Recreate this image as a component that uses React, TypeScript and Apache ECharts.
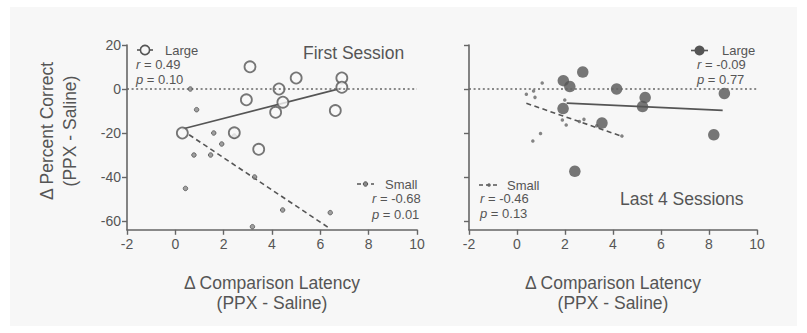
import { useEffect, useRef } from "react";
import * as echarts from "echarts";

// ---- data ----
const xTickInterval = 2;
const yTickValues = [-60, -40, -20, 0, 20];

const firstLargeX = [0.29, 3.09, 2.94, 2.44, 3.45, 4.29, 4.15, 4.45, 5.0, 6.89, 6.89, 6.62];
const firstLargeY = [-20, 10.1, -4.9, -19.9, -27.4, 0, -10.6, -6, 5, 5, 0.8, -9.8];
const firstSmallX = [0.62, 0.88, 0.77, 0.42, 1.59, 1.46, 1.92, 2.44, 3.28, 4.44, 3.19, 6.41];
const firstSmallY = [0, -9.4, -30, -45.2, -20, -30, -25, -21.4, -40, -55, -62.6, -56.2];

const lastLargeX = [1.93, 2.2, 2.74, 4.15, 1.92, 5.34, 5.23, 3.54, 2.41, 8.2, 8.64];
const lastLargeY = [3.8, 1.1, 7.7, 0, -8.9, -3.9, -8.0, -15.5, -37.4, -20.8, -2];
const lastSmallX = [0.39, 0.69, 0.75, 1.05, 1.99, 1.89, 2.05, 2.6, 2.79, 3.32, 4.37, 0.98, 0.66];
const lastSmallY = [-2.4, -0.9, -3.8, 2.7, -5, -14.1, -16.4, -14.8, -13.8, -16.7, -21.4, -20.2, -23.6];

// regression line end points
const firstLargeFitX = [0.29, 6.89];
const firstLargeFitY = [-18.2, 0.4];
const firstSmallFitX = [0.57, 6.38];
const firstSmallFitY = [-20.8, -63.3];
const lastLargeFitX = [2.07, 8.57];
const lastLargeFitY = [-6.4, -9.7];
const lastSmallFitX = [0.39, 4.42];
const lastSmallFitY = [-6.5, -21.7];

const panelTitles = ["First Session", "Last 4 Sessions"];
const largeStats = [["0.49", "0.10"], ["-0.09", "0.77"]];
const smallStats = [["-0.68", "0.01"], ["-0.46", "0.13"]];
const xAxisTitle = "\u0394 Comparison Latency\n(PPX - Saline)";
const yAxisTitle = "\u0394 Percent Correct\n(PPX - Saline)";

const FONT = "'Liberation Sans', Arial, Helvetica, sans-serif";
const TEXT = "#555";
const AXIS = "#666";
const MARK = "#555";
const BG = "#f7f7f7";

const pairs = (xs: number[], ys: number[]) => xs.map((x, i) => [x, ys[i]]);

function txt(x: number, y: number, text: string, size: number, align = "left", extra: any = {}) {
  return {
    type: "text",
    x,
    y,
    silent: true,
    ...extra,
    style: {
      text,
      fill: TEXT,
      fontSize: size,
      fontFamily: FONT,
      align,
      verticalAlign: "middle",
      textAlign: align,
      textVerticalAlign: "middle",
      lineHeight: extra.lineHeight,
      rich: {
        i: { fontStyle: "italic", fontSize: size, fontFamily: FONT, fill: TEXT },
      },
    },
  };
}

export default function App() {
  const ref = useRef<HTMLDivElement>(null);

  useEffect(() => {
    if (!ref.current) return;
    const chart = echarts.init(ref.current, undefined, { renderer: "svg" });

    const grids = [
      { left: 127, top: 45, width: 290, height: 184.8 },
      { left: 469, top: 45, width: 288, height: 184.8 },
    ];

    const xAxes = grids.map((_, i) => ({
      type: "value",
      gridIndex: i,
      min: -2,
      max: 10,
      interval: xTickInterval,
      axisLine: { show: true, onZero: false, lineStyle: { color: AXIS, width: 1.6 } },
      axisTick: { show: true, length: 5, lineStyle: { color: AXIS, width: 1.4 } },
      axisLabel: { color: TEXT, fontSize: 14, fontFamily: FONT, margin: 7 },
      splitLine: { show: false },
      name: xAxisTitle,
      nameLocation: "middle",
      nameGap: 43,
      nameTextStyle: { color: TEXT, fontSize: 17.5, fontFamily: FONT, lineHeight: 20 },
    }));

    const yAxes = grids.map((_, i) => ({
      type: "value",
      gridIndex: i,
      min: -64,
      max: 20,
      axisLine: { show: true, onZero: false, lineStyle: { color: AXIS, width: 1.6 } },
      axisTick: { show: true, length: 5, customValues: yTickValues, lineStyle: { color: AXIS, width: 1.4 } },
      axisLabel: {
        show: i === 0,
        customValues: yTickValues,
        color: TEXT,
        fontSize: 14,
        fontFamily: FONT,
        margin: 6,
      },
      splitLine: { show: false },
    }));

    const zeroLine = {
      silent: true,
      symbol: "none",
      label: { show: false },
      lineStyle: { type: [2, 2.6], color: AXIS, width: 1.5 },
      data: [{ yAxis: 0 }],
    };

    const fitLine = (xs: number[], ys: number[], gi: number, dashed: boolean, withZero: boolean) => ({
      type: "line",
      xAxisIndex: gi,
      yAxisIndex: gi,
      data: pairs(xs, ys),
      showSymbol: false,
      symbol: "none",
      silent: true,
      z: 2,
      lineStyle: { color: MARK, width: 1.6, type: dashed ? [5, 3.5] : "solid" },
      ...(withZero ? { markLine: zeroLine } : {}),
    });

    const series: any[] = [
      fitLine(firstSmallFitX, firstSmallFitY, 0, true, true),
      fitLine(firstLargeFitX, firstLargeFitY, 0, false, false),
      fitLine(lastSmallFitX, lastSmallFitY, 1, true, true),
      fitLine(lastLargeFitX, lastLargeFitY, 1, false, false),
      {
        type: "scatter",
        xAxisIndex: 0,
        yAxisIndex: 0,
        data: pairs(firstSmallX, firstSmallY),
        symbol: "circle",
        symbolSize: 4.5,
        z: 3,
        itemStyle: { color: "#888", borderColor: MARK, borderWidth: 1 },
      },
      {
        type: "scatter",
        xAxisIndex: 0,
        yAxisIndex: 0,
        data: pairs(firstLargeX, firstLargeY),
        symbol: "circle",
        symbolSize: 11,
        z: 4,
        itemStyle: { color: BG, borderColor: MARK, borderWidth: 1.8 },
      },
      {
        type: "scatter",
        xAxisIndex: 1,
        yAxisIndex: 1,
        data: pairs(lastSmallX, lastSmallY),
        symbol: "circle",
        symbolSize: 3.5,
        z: 3,
        itemStyle: { color: "#666" },
      },
      {
        type: "scatter",
        xAxisIndex: 1,
        yAxisIndex: 1,
        data: pairs(lastLargeX, lastLargeY),
        symbol: "circle",
        symbolSize: 11.5,
        z: 4,
        itemStyle: { color: MARK },
      },
    ];

    const graphic: any[] = [
      // y axis title
      txt(58, 131, yAxisTitle, 17.5, "center", { rotation: Math.PI / 2, lineHeight: 23 }),
      // panel titles
      txt(303, 53, panelTitles[0], 17.5),
      txt(620, 199, panelTitles[1], 17.5),
      // left: Large legend
      { type: "line", silent: true, shape: { x1: 137, y1: 50, x2: 153, y2: 50 }, style: { stroke: MARK, lineWidth: 1.6 } },
      { type: "circle", silent: true, shape: { cx: 145, cy: 50, r: 4.6 }, style: { fill: BG, stroke: MARK, lineWidth: 1.6 } },
      txt(165, 50, "Large", 13),
      txt(136, 64.5, `{i|r} = ${largeStats[0][0]}`, 13),
      txt(136, 79.5, `{i|p} = ${largeStats[0][1]}`, 13),
      // left: Small legend
      { type: "line", silent: true, shape: { x1: 357, y1: 184, x2: 374, y2: 184 }, style: { stroke: MARK, lineWidth: 1.5, lineDash: [4, 3] } },
      { type: "circle", silent: true, shape: { cx: 365.5, cy: 184, r: 2.2 }, style: { fill: "#888", stroke: MARK, lineWidth: 1 } },
      txt(385, 184, "Small", 13),
      txt(372, 198.5, `{i|r} = ${smallStats[0][0]}`, 13),
      txt(372, 214, `{i|p} = ${smallStats[0][1]}`, 13),
      // right: Large legend
      { type: "line", silent: true, shape: { x1: 691, y1: 50.5, x2: 708, y2: 50.5 }, style: { stroke: MARK, lineWidth: 1.6 } },
      { type: "circle", silent: true, shape: { cx: 699.5, cy: 50.5, r: 5 }, style: { fill: MARK } },
      txt(722, 50.5, "Large", 13),
      txt(697, 64.5, `{i|r} = ${largeStats[1][0]}`, 13),
      txt(697, 79.5, `{i|p} = ${largeStats[1][1]}`, 13),
      // right: Small legend
      { type: "line", silent: true, shape: { x1: 479, y1: 185, x2: 498, y2: 185 }, style: { stroke: MARK, lineWidth: 1.5, lineDash: [4, 3] } },
      { type: "circle", silent: true, shape: { cx: 489, cy: 185, r: 1.8 }, style: { fill: "#666" } },
      txt(507, 185, "Small", 13),
      txt(480, 198.5, `{i|r} = ${smallStats[1][0]}`, 13),
      txt(480, 213.5, `{i|p} = ${smallStats[1][1]}`, 13),
    ];

    chart.setOption({
      animation: false,
      backgroundColor: "transparent",
      textStyle: { fontFamily: FONT },
      grid: grids,
      xAxis: xAxes,
      yAxis: yAxes,
      series,
      graphic,
    } as any);

    return () => chart.dispose();
  }, []);

  return (
    <div style={{ position: "fixed", left: 0, top: 0, width: 807, height: 333, background: "#fff" }}>
      <div style={{ position: "absolute", left: 10, top: 7, width: 787, height: 319, background: BG }} />
      <div ref={ref} style={{ position: "absolute", left: 0, top: 0, width: 807, height: 333 }} />
    </div>
  );
}
